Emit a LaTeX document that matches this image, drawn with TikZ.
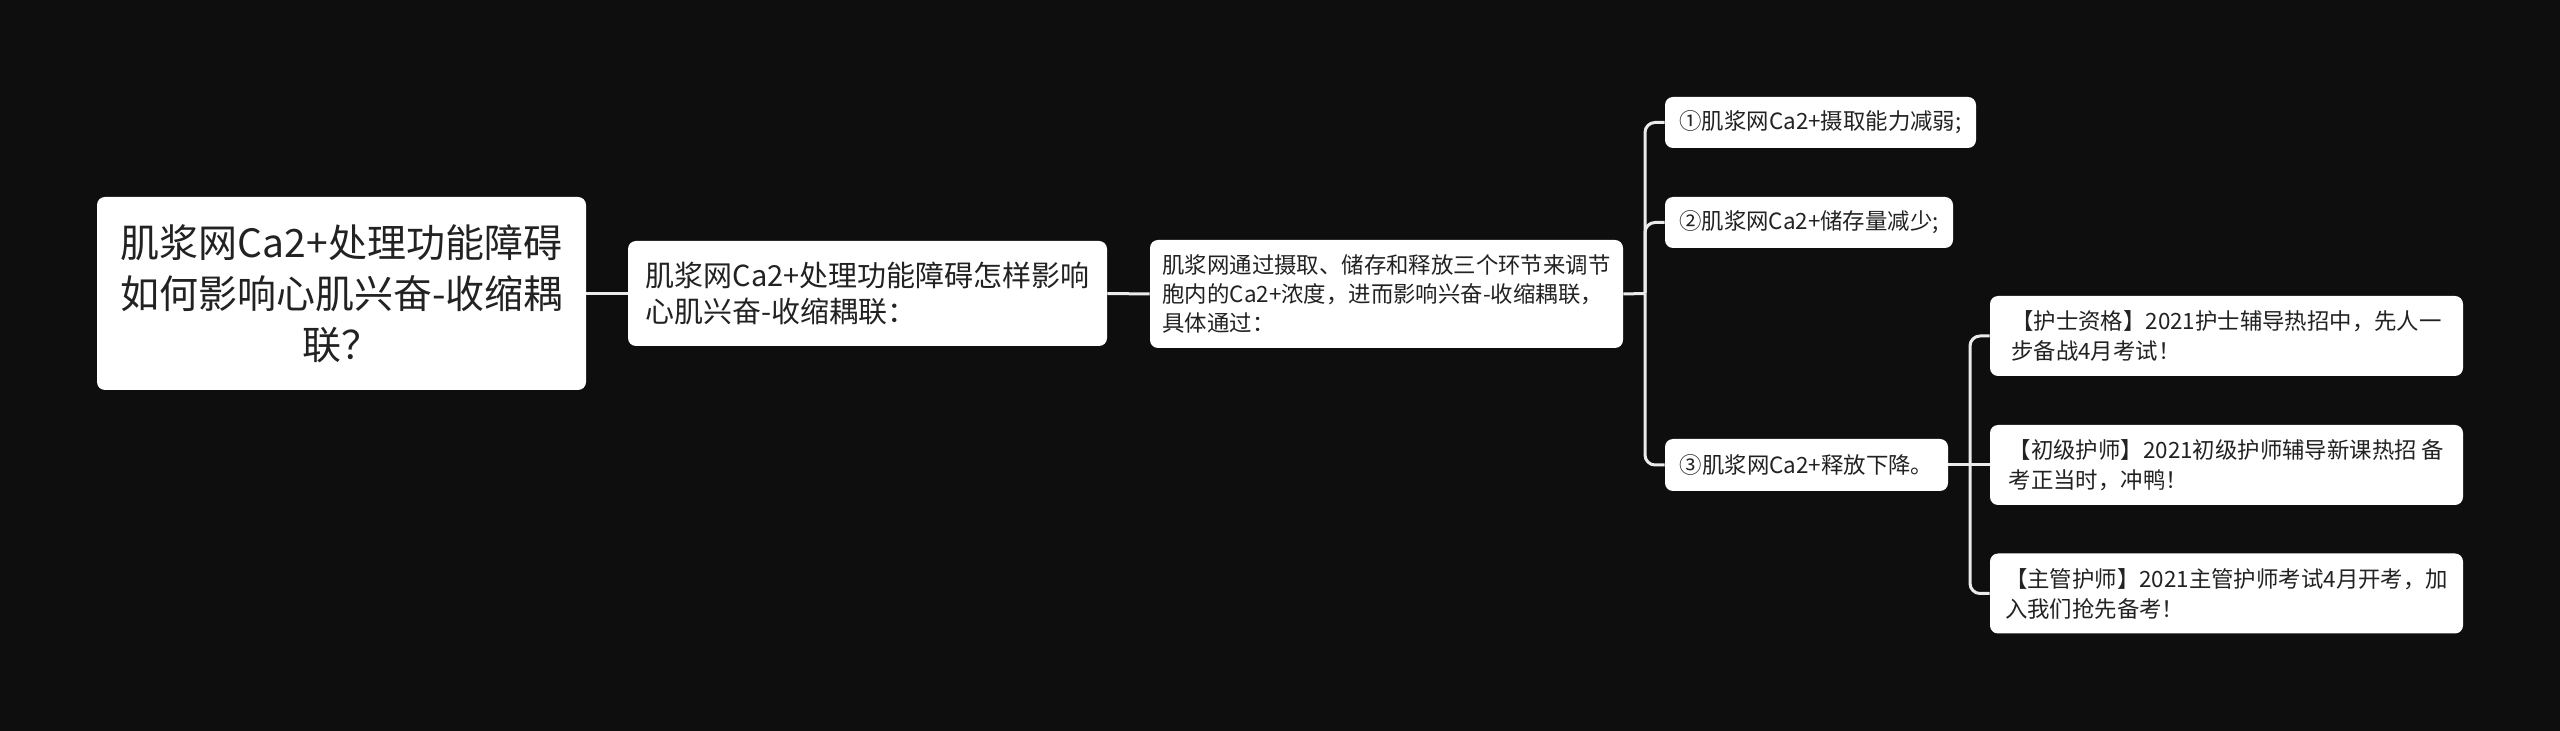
\documentclass[tikz,border=0pt]{standalone}
\usepackage{fontspec}
\setmainfont{Noto Sans CJK SC}
\usepackage[x11names, svgnames, rgb]{xcolor}
\usepackage{tikz}
\usetikzlibrary{calc, positioning}
\definecolor{mapbg}{RGB}{14,14,14}
\definecolor{mapink}{RGB}{34,34,34}
\definecolor{mapline}{RGB}{235,235,235}

\begin{document}
\begin{tikzpicture}[x=0.5pt, y=-0.5pt,
    box/.style={fill=white, rounded corners=4pt, text=mapink, inner xsep=3pt, inner ysep=2pt},
    rootbox/.style={box, align=center, font={\fontsize{19.5}{25.5}\selectfont}},
    midbox/.style={box, align=left, font={\fontsize{14.5}{18}\selectfont}},
    smallbox/.style={box, align=left, font={\fontsize{11.2}{15}\selectfont}},
    link/.style={draw=mapline, line width=1.5pt},
    branch/.style={link, rounded corners=5pt}]
  \fill[mapbg] (0,0) rectangle (2560,731);

  \node[rootbox, minimum width=244.5pt, minimum height=96.5pt] (root) at (341.5,293.5)
    {肌浆网Ca2+处理功能障碍\\如何影响心肌兴奋-收缩耦\\联？};
  \node[midbox, minimum width=239.5pt, minimum height=52.5pt] (how) at (867.5,293.5)
    {肌浆网Ca2+处理功能障碍怎样影响\\心肌兴奋-收缩耦联：};
  \node[smallbox, minimum width=236.5pt, minimum height=54pt, font={\fontsize{11.2}{14.5}\selectfont}] (via) at (1386.5,294)
    {肌浆网通过摄取、储存和释放三个环节来调节\\胞内的Ca2+浓度，进而影响兴奋-收缩耦联，\\具体通过：};

  \node[smallbox, minimum width=155.5pt, minimum height=25.5pt] (take) at (1820.5,122.5)
    {①肌浆网Ca2+摄取能力减弱;};
  \node[smallbox, minimum width=144pt, minimum height=25.5pt] (store) at (1809,222.5)
    {②肌浆网Ca2+储存量减少;};
  \node[smallbox, minimum width=141.5pt, minimum height=26pt] (release) at (1806.5,465)
    {③肌浆网Ca2+释放下降。};

  \node[smallbox, minimum width=236.5pt, minimum height=40pt] (nurse) at (2226.5,336)
    {【护士资格】2021护士辅导热招中，先人一\\步备战4月考试！};
  \node[smallbox, minimum width=236.5pt, minimum height=40pt] (junior) at (2226.5,465)
    {【初级护师】2021初级护师辅导新课热招 备\\考正当时，冲鸭！};
  \node[smallbox, minimum width=236.5pt, minimum height=40pt] (senior) at (2226.5,593.5)
    {【主管护师】2021主管护师考试4月开考，加\\入我们抢先备考！};

  \coordinate (fork1) at (1645,293.5);
  \coordinate (fork2) at (1970,465);

  \draw[link] (root.east) -- (how.west);
  \draw[link] (how.east) -- (via.west);
  \draw[link] (via.east) -- (fork1);
  \draw[branch] (fork1) |- (take.west);
  \draw[branch] (fork1) |- (store.west);
  \draw[branch] (fork1) |- (release.west);
  \draw[link] (release.east) -- (junior.west);
  \draw[branch] (fork2) |- (nurse.west);
  \draw[branch] (fork2) |- (senior.west);
\end{tikzpicture}
\end{document}
